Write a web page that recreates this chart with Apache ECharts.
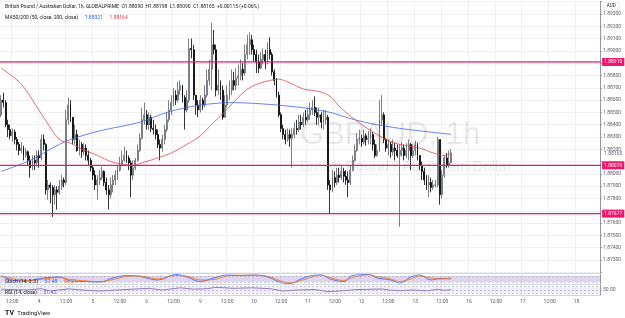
<!DOCTYPE html>
<html>
<head>
<meta charset="utf-8">
<script src="https://cdn.jsdelivr.net/npm/echarts/dist/echarts.min.js"></script>
<style>
html, body { margin: 0; padding: 0; background: #fff; }
#chart { width: 625px; height: 318px; }
</style>
</head>
<body>
<div id="chart"></div>
<script>
// GBPAUD 1h, 3 Dec 07:00 .. 13 Dec 16:00 (trading hours only)
var tradingDays = [3, 4, 5, 6, 9, 10, 11, 12, 13, 16, 17, 18];

var firstOpen = 1.8848;
var closes = [
	1.8860, 1.8858, 1.8840, 1.8836, 1.8831, 1.8834, 1.8828, 1.8824, 1.8819, 1.8821,
	1.8815, 1.8818, 1.8811, 1.8805, 1.8811, 1.8809, 1.8815, 1.8813, 1.8828, 1.8824,
	1.8787, 1.8791, 1.8789, 1.8783, 1.8787, 1.8785, 1.8790, 1.8795, 1.8793, 1.8844,
	1.8856, 1.8846, 1.8828, 1.8832, 1.8819, 1.8824, 1.8818, 1.8821, 1.8815, 1.8811,
	1.8805, 1.8799, 1.8791, 1.8795, 1.8797, 1.8802, 1.8793, 1.8787, 1.8783, 1.8791,
	1.8795, 1.8799, 1.8803, 1.8807, 1.8811, 1.8815, 1.8813, 1.8809, 1.8799, 1.8805,
	1.8811, 1.8819, 1.8829, 1.8844, 1.8848, 1.8840, 1.8846, 1.8837, 1.8836, 1.8832,
	1.8824, 1.8821, 1.8828, 1.8836, 1.8844, 1.8852, 1.8858, 1.8864, 1.8860, 1.8868,
	1.8872, 1.8862, 1.8852, 1.8860, 1.8902, 1.8901, 1.8864, 1.8856, 1.8852, 1.8860,
	1.8856, 1.8864, 1.8876, 1.8885, 1.8905, 1.8901, 1.8868, 1.8872, 1.8868, 1.8846,
	1.8856, 1.8864, 1.8868, 1.8876, 1.8872, 1.8878, 1.8880, 1.8885, 1.8882, 1.8897,
	1.8905, 1.8909, 1.8901, 1.8897, 1.8891, 1.8886, 1.8893, 1.8897, 1.8891, 1.8901,
	1.8897, 1.8883, 1.8876, 1.8864, 1.8848, 1.8837, 1.8832, 1.8828, 1.8832, 1.8829,
	1.8832, 1.8837, 1.8836, 1.8842, 1.8840, 1.8846, 1.8844, 1.8848, 1.8852, 1.8854,
	1.8850, 1.8846, 1.8848, 1.8842, 1.8844, 1.8846, 1.8791, 1.8787, 1.8797, 1.8793,
	1.8799, 1.8797, 1.8802, 1.8798, 1.8795, 1.8793, 1.8803, 1.8811, 1.8819, 1.8828,
	1.8829, 1.8826, 1.8831, 1.8828, 1.8829, 1.8832, 1.8824, 1.8815, 1.8819, 1.8844,
	1.8848, 1.8828, 1.8821, 1.8824, 1.8818, 1.8821, 1.8819, 1.8815, 1.8819, 1.8821,
	1.8815, 1.8819, 1.8824, 1.8815, 1.8819, 1.8824, 1.8815, 1.8807, 1.8802, 1.8795,
	1.8791, 1.8793, 1.8789, 1.8791, 1.8791, 1.8828, 1.8783, 1.8799, 1.8813, 1.8807,
	1.8809, 1.8817
];
var highs = [
	1.8864, 1.8866, 1.8860, 1.8844, 1.8840, 1.8837, 1.8836, 1.8830, 1.8826, 1.8826,
	1.8823, 1.8821, 1.8819, 1.8815, 1.8815, 1.8815, 1.8819, 1.8819, 1.8832, 1.8832,
	1.8825, 1.8795, 1.8793, 1.8791, 1.8791, 1.8790, 1.8795, 1.8799, 1.8797, 1.8852,
	1.8862, 1.8860, 1.8846, 1.8840, 1.8836, 1.8828, 1.8826, 1.8825, 1.8824, 1.8819,
	1.8813, 1.8807, 1.8803, 1.8799, 1.8803, 1.8806, 1.8803, 1.8797, 1.8791, 1.8797,
	1.8799, 1.8803, 1.8807, 1.8814, 1.8819, 1.8822, 1.8819, 1.8815, 1.8811, 1.8811,
	1.8813, 1.8824, 1.8833, 1.8854, 1.8858, 1.8852, 1.8850, 1.8848, 1.8844, 1.8840,
	1.8836, 1.8828, 1.8832, 1.8840, 1.8850, 1.8860, 1.8864, 1.8870, 1.8868, 1.8875,
	1.8876, 1.8872, 1.8864, 1.8868, 1.8910, 1.8910, 1.8905, 1.8864, 1.8860, 1.8864,
	1.8862, 1.8872, 1.8885, 1.8893, 1.8923, 1.8917, 1.8905, 1.8885, 1.8876, 1.8872,
	1.8864, 1.8872, 1.8876, 1.8885, 1.8883, 1.8886, 1.8889, 1.8893, 1.8890, 1.8905,
	1.8913, 1.8915, 1.8913, 1.8905, 1.8901, 1.8897, 1.8899, 1.8902, 1.8901, 1.8907,
	1.8911, 1.8899, 1.8885, 1.8878, 1.8867, 1.8850, 1.8840, 1.8836, 1.8837, 1.8836,
	1.8837, 1.8842, 1.8844, 1.8848, 1.8848, 1.8850, 1.8852, 1.8854, 1.8858, 1.8860,
	1.8863, 1.8854, 1.8854, 1.8850, 1.8852, 1.8852, 1.8848, 1.8795, 1.8803, 1.8802,
	1.8805, 1.8805, 1.8807, 1.8805, 1.8803, 1.8802, 1.8807, 1.8815, 1.8824, 1.8833,
	1.8836, 1.8832, 1.8836, 1.8833, 1.8835, 1.8837, 1.8834, 1.8828, 1.8824, 1.8860,
	1.8864, 1.8850, 1.8829, 1.8828, 1.8826, 1.8828, 1.8825, 1.8824, 1.8824, 1.8826,
	1.8824, 1.8825, 1.8828, 1.8825, 1.8824, 1.8827, 1.8825, 1.8815, 1.8810, 1.8805,
	1.8799, 1.8799, 1.8797, 1.8795, 1.8795, 1.8830, 1.8828, 1.8803, 1.8815, 1.8817,
	1.8819, 1.8820
];
var lows = [
	1.8846, 1.8854, 1.8838, 1.8830, 1.8828, 1.8826, 1.8824, 1.8819, 1.8815, 1.8817,
	1.8811, 1.8813, 1.8807, 1.8797, 1.8803, 1.8803, 1.8806, 1.8805, 1.8811, 1.8819,
	1.8783, 1.8779, 1.8776, 1.8765, 1.8775, 1.8771, 1.8783, 1.8787, 1.8789, 1.8791,
	1.8840, 1.8842, 1.8824, 1.8824, 1.8818, 1.8815, 1.8813, 1.8815, 1.8811, 1.8807,
	1.8802, 1.8795, 1.8787, 1.8779, 1.8791, 1.8795, 1.8790, 1.8783, 1.8771, 1.8780,
	1.8785, 1.8791, 1.8795, 1.8802, 1.8806, 1.8810, 1.8809, 1.8803, 1.8781, 1.8795,
	1.8803, 1.8810, 1.8818, 1.8828, 1.8840, 1.8836, 1.8836, 1.8834, 1.8832, 1.8828,
	1.8821, 1.8811, 1.8818, 1.8824, 1.8834, 1.8842, 1.8848, 1.8855, 1.8856, 1.8858,
	1.8864, 1.8858, 1.8836, 1.8850, 1.8858, 1.8894, 1.8860, 1.8848, 1.8846, 1.8850,
	1.8852, 1.8854, 1.8862, 1.8872, 1.8868, 1.8897, 1.8863, 1.8864, 1.8860, 1.8844,
	1.8846, 1.8854, 1.8860, 1.8864, 1.8868, 1.8868, 1.8872, 1.8876, 1.8876, 1.8880,
	1.8893, 1.8897, 1.8897, 1.8891, 1.8882, 1.8882, 1.8885, 1.8889, 1.8885, 1.8889,
	1.8893, 1.8880, 1.8872, 1.8862, 1.8846, 1.8834, 1.8828, 1.8824, 1.8826, 1.8822,
	1.8805, 1.8829, 1.8832, 1.8834, 1.8836, 1.8838, 1.8840, 1.8842, 1.8844, 1.8848,
	1.8847, 1.8840, 1.8840, 1.8837, 1.8836, 1.8840, 1.8787, 1.8768, 1.8785, 1.8789,
	1.8791, 1.8793, 1.8795, 1.8793, 1.8791, 1.8781, 1.8791, 1.8802, 1.8810, 1.8818,
	1.8824, 1.8822, 1.8824, 1.8823, 1.8824, 1.8824, 1.8819, 1.8813, 1.8814, 1.8818,
	1.8840, 1.8825, 1.8818, 1.8815, 1.8813, 1.8815, 1.8811, 1.8813, 1.8757, 1.8814,
	1.8811, 1.8813, 1.8811, 1.8803, 1.8813, 1.8815, 1.8811, 1.8803, 1.8795, 1.8791,
	1.8787, 1.8781, 1.8785, 1.8787, 1.8789, 1.8789, 1.8775, 1.8780, 1.8797, 1.8805,
	1.8805, 1.8809
];

// moving averages: [bar, price]
var ma50 = [
	[0, 1.8886], [9, 1.8873], [19, 1.8846], [26, 1.8828], [31, 1.8825], [35, 1.8821],
	[43, 1.8815], [49, 1.8810], [54, 1.8808], [59, 1.8807], [63, 1.8809], [70, 1.8813],
	[76, 1.8817], [83, 1.8824], [89, 1.8831], [95, 1.8842], [98, 1.8847], [108, 1.8866],
	[113, 1.8872], [120, 1.8876], [124, 1.8877], [129, 1.8874], [135, 1.8869], [142, 1.8867],
	[147, 1.8863], [151, 1.8855], [156, 1.8847], [162, 1.8839], [168, 1.8832], [173, 1.8827],
	[178, 1.8824], [187, 1.8821], [193, 1.8817], [198, 1.8815], [201, 1.88164]
];
var ma200 = [
	[0, 1.8802], [13, 1.8811], [20, 1.8818], [26, 1.8824], [31, 1.8828], [44, 1.8835],
	[62, 1.8842], [74, 1.8850], [83, 1.8854], [89, 1.8856], [102, 1.8858], [116, 1.8857],
	[134, 1.8854], [147, 1.8850], [156, 1.8845], [165, 1.8841], [178, 1.8837], [187, 1.8835],
	[201, 1.88321]
];

// stochastic %K / %D and RSI: [bar, value]
var stochK = [
	[0, 85], [5, 40], [11, 30], [19, 60], [26, 70], [31, 30], [38, 25], [44, 20], [50, 60],
	[56, 85], [62, 75], [70, 40], [78, 95], [83, 70], [89, 25], [95, 60], [101, 90], [107, 85],
	[113, 90], [119, 70], [125, 15], [129, 5], [134, 50], [139, 85], [143, 90], [147, 50],
	[153, 25], [157, 85], [164, 95], [168, 60], [174, 40], [178, 10], [183, 70], [187, 90],
	[192, 40], [196, 55], [201, 51.48]
];
var stochD = [
	[0, 80], [5, 55], [11, 35], [19, 50], [26, 65], [31, 45], [38, 30], [44, 22], [50, 45],
	[56, 75], [62, 80], [70, 50], [78, 85], [83, 80], [89, 40], [95, 45], [101, 80], [107, 88],
	[113, 88], [119, 78], [125, 30], [129, 12], [134, 35], [139, 70], [143, 88], [147, 65],
	[153, 35], [157, 65], [164, 90], [168, 75], [174, 50], [178, 25], [183, 50], [187, 80],
	[192, 60], [196, 50], [201, 60.21]
];
var rsi = [
	[0, 55], [6, 52], [12, 50], [18, 58], [22, 44], [30, 57], [36, 50], [44, 44], [52, 50],
	[60, 56], [66, 60], [72, 50], [80, 63], [86, 55], [92, 58], [96, 66], [104, 60], [112, 63],
	[120, 58], [126, 44], [132, 50], [140, 53], [146, 40], [152, 45], [158, 52], [164, 54],
	[170, 56], [174, 49], [178, 46], [184, 50], [190, 45], [195, 54], [198, 48], [201, 51.43]
];

var levels = [1.88910, 1.88070, 1.87677];
var lastPrice = 1.88165;

var categories = [];
tradingDays.forEach(function (d) {
	var from = d === 3 ? 7 : 0;
	var to = d === 18 ? 10 : 23;
	for (var h = from; h <= to; h++) {
		categories.push(d + ' ' + (h < 10 ? '0' + h : h) + ':00');
	}
});
var lastIndex = categories.length - 1;

var candles = closes.map(function (c, i) {
	var o = i === 0 ? firstOpen : closes[i - 1];
	return [o, c, lows[i], highs[i]];
});

function isMark(index, value) {
	return / (00|12):00$/.test(value);
}

var gridColor = '#eef0f3';
var textColor = '#5d606b';
var levelColor = '#f0146a';
var font = 'Roboto, "DejaVu Sans", sans-serif';

function xAxisFor(gridIndex, showLabels) {
	return {
		type: 'category',
		gridIndex: gridIndex,
		data: categories,
		boundaryGap: true,
		axisLine: { show: showLabels, lineStyle: { color: '#d1d4dc' } },
		axisTick: { show: false },
		axisLabel: {
			show: showLabels,
			interval: isMark,
			fontSize: 5,
			color: textColor,
			fontFamily: font,
			margin: 4,
			formatter: function (v) {
				return / 00:00$/.test(v) ? v.split(' ')[0] : '12:00';
			}
		},
		splitLine: { show: true, interval: isMark, lineStyle: { color: gridColor, width: 1 } }
	};
}

// horizontal price level: a flat two-point line with its tag on the price scale
function levelSeries(v, lineColor, tagColor, tagBg) {
	return {
		type: 'line',
		xAxisIndex: 0,
		yAxisIndex: 0,
		data: [[-1, v], [lastIndex + 1, v]],
		showSymbol: false,
		silent: true,
		z: 4,
		clip: false,
		lineStyle: { color: lineColor, width: 1.3 },
		endLabel: {
			show: true,
			distance: 1,
			fontSize: 5,
			fontFamily: font,
			color: tagColor,
			backgroundColor: tagBg,
			padding: [1.5, 2],
			formatter: function () { return v.toFixed(5); }
		}
	};
}

var chart = echarts.init(document.getElementById('chart'));

var option = {
	animation: false,
	backgroundColor: '#ffffff',
	grid: [
		{ left: 0, right: 25, top: 1.7, height: 270.6 },
		{ left: 0, right: 25, top: 274, height: 10 },
		{ left: 0, right: 25, top: 285, height: 10 }
	],
	xAxis: [xAxisFor(0, false), xAxisFor(1, false), xAxisFor(2, true)],
	yAxis: [
		{
			type: 'value',
			gridIndex: 0,
			position: 'right',
			min: 1.872,
			max: 1.894,
			interval: 0.001,
			axisLine: { show: true, lineStyle: { color: '#9598a1' } },
			axisTick: { show: true, length: 2, lineStyle: { color: '#9598a1' } },
			axisLabel: {
				fontSize: 5,
				color: textColor,
				fontFamily: font,
				margin: 3,
				formatter: function (v) {
					var k = Math.round(v * 1000);
					if (k === 1894 || k === 1889 || k === 1881 || k === 1877 || k === 1872) return '';
					return v.toFixed(5);
				}
			},
			splitLine: { show: true, lineStyle: { color: gridColor, width: 1 } }
		},
		{
			type: 'value',
			gridIndex: 1,
			position: 'right',
			min: 0,
			max: 100,
			axisLine: { show: true, lineStyle: { color: '#9598a1' } },
			axisTick: { show: false },
			axisLabel: { show: false },
			splitLine: { show: false }
		},
		{
			type: 'value',
			gridIndex: 2,
			position: 'right',
			min: 20,
			max: 80,
			interval: 10,
			axisLine: { show: true, lineStyle: { color: '#9598a1' } },
			axisTick: { show: false },
			axisLabel: {
				fontSize: 5,
				color: textColor,
				fontFamily: font,
				margin: 3,
				formatter: function (v) { return v === 50 ? '50.00' : ''; }
			},
			splitLine: { show: false }
		}
	],
	graphic: [
		{
			type: 'text', left: 300, top: 120, z: 1,
			style: {
				text: 'GBPAUD, 1h', x: 0, y: 0, align: 'center', verticalAlign: 'middle',
				font: '31px "Liberation Sans", Arial, sans-serif', fill: 'rgba(0,0,0,0.09)'
			}
		},
		{
			type: 'text', left: 300, top: 159, z: 1,
			style: {
				text: 'British Pound / Australian Dollar', x: 0, y: 0, align: 'center', verticalAlign: 'middle',
				font: '15px "Liberation Sans", Arial, sans-serif', fill: 'rgba(0,0,0,0.09)'
			}
		},
		{
			type: 'text', left: 5, top: 4, z: 10,
			style: {
				text: 'British Pound / Australian Dollar, 1h, GLOBALPRIME  O1.88090  H1.88198  L1.88090  C1.88165  +0.00115 (+0.06%)',
				font: '5px ' + font, fill: '#131722'
			}
		},
		{
			type: 'text', left: 5, top: 12, z: 10,
			style: {
				rich: {
					a: { fontSize: 5, fontFamily: font, fill: '#131722' },
					b: { fontSize: 5, fontFamily: font, fill: '#2962ff' },
					c: { fontSize: 5, fontFamily: font, fill: '#f23645' }
				},
				text: '{a|MA50/200 (50, close, 200, close)}  {b|1.88321}  {c|1.88164}'
			}
		},
		{
			type: 'text', left: 5, top: 275.5, z: 10,
			style: {
				rich: {
					a: { fontSize: 5, fontFamily: font, fill: '#131722' },
					b: { fontSize: 5, fontFamily: font, fill: '#2962ff' },
					c: { fontSize: 5, fontFamily: font, fill: '#ff6d00' }
				},
				text: '{a|Stoch (14, 3, 3)}  {b|51.48}  {c|60.21}'
			}
		},
		{
			type: 'text', left: 5, top: 286.5, z: 10,
			style: {
				rich: {
					a: { fontSize: 5, fontFamily: font, fill: '#131722' },
					b: { fontSize: 5, fontFamily: font, fill: '#7e57c2' }
				},
				text: '{a|RSI (14, close)}  {b|51.43}'
			}
		},
		{
			type: 'group', left: 603, top: 2, z: 10,
			children: [
				{ type: 'rect', shape: { x: 0, y: 0, width: 16, height: 8, r: 1 }, style: { fill: '#fff', stroke: '#d1d4dc', lineWidth: 0.5 } },
				{ type: 'text', style: { text: 'AUD', x: 8, y: 4, align: 'center', verticalAlign: 'middle', font: '4.5px ' + font, fill: '#131722' } }
			]
		},
		{ type: 'line', z: 10, shape: { x1: 0, y1: 273.5, x2: 600, y2: 273.5 }, style: { stroke: '#d1d4dc', lineWidth: 1 } },
		{ type: 'line', z: 10, shape: { x1: 0, y1: 284.5, x2: 600, y2: 284.5 }, style: { stroke: '#d1d4dc', lineWidth: 1 } },
		{
			type: 'text', left: 5, top: 307, z: 10,
			style: {
				rich: {
					l: { fontSize: 7, fontWeight: 'bold', fontFamily: font, fill: '#131722' },
					t: { fontSize: 6, fontFamily: font, fill: '#131722' }
				},
				text: '{l|TV} {t|TradingView}'
			}
		}
	],
	series: [
		{
			name: 'GBPAUD',
			type: 'candlestick',
			xAxisIndex: 0,
			yAxisIndex: 0,
			data: candles,
			barWidth: 1.4,
			itemStyle: {
				color: '#ffffff',
				color0: '#000000',
				borderColor: '#5d606b',
				borderColor0: '#000000',
				borderWidth: 0.8
			}
		},
		{
			name: 'MA200',
			type: 'line',
			xAxisIndex: 0,
			yAxisIndex: 0,
			data: ma200,
			showSymbol: false,
			smooth: 0.3,
			lineStyle: { color: '#3f65e8', width: 0.8 }
		},
		{
			name: 'MA50',
			type: 'line',
			xAxisIndex: 0,
			yAxisIndex: 0,
			data: ma50,
			showSymbol: false,
			smooth: 0.3,
			lineStyle: { color: '#e0464b', width: 0.8 }
		},
		levelSeries(levels[0], levelColor, '#ffffff', levelColor),
		levelSeries(levels[1], levelColor, '#ffffff', levelColor),
		levelSeries(levels[2], levelColor, '#ffffff', levelColor),
		levelSeries(lastPrice, 'rgba(0,0,0,0)', textColor, 'transparent'),
		{
			name: '%K',
			type: 'line',
			xAxisIndex: 1,
			yAxisIndex: 1,
			data: stochK,
			showSymbol: false,
			smooth: 0.4,
			lineStyle: { color: '#2962ff', width: 0.8 },
			markArea: {
				silent: true,
				itemStyle: { color: 'rgba(126,87,194,0.25)' },
				data: [[{ yAxis: 20 }, { yAxis: 80 }]]
			},
			markLine: {
				symbol: 'none',
				silent: true,
				label: { show: false },
				lineStyle: { color: '#9598a1', width: 0.5, type: [2, 2] },
				data: [{ yAxis: 20 }, { yAxis: 80 }]
			}
		},
		{
			name: '%D',
			type: 'line',
			xAxisIndex: 1,
			yAxisIndex: 1,
			data: stochD,
			showSymbol: false,
			smooth: 0.4,
			lineStyle: { color: '#ff6d00', width: 0.8 }
		},
		{
			name: 'RSI',
			type: 'line',
			xAxisIndex: 2,
			yAxisIndex: 2,
			data: rsi,
			showSymbol: false,
			lineStyle: { color: '#7e57c2', width: 0.8 },
			markArea: {
				silent: true,
				itemStyle: { color: 'rgba(126,87,194,0.1)' },
				data: [[{ yAxis: 30 }, { yAxis: 70 }]]
			},
			markLine: {
				symbol: 'none',
				silent: true,
				label: { show: false },
				lineStyle: { color: '#9598a1', width: 0.5, type: [2, 2] },
				data: [{ yAxis: 30 }, { yAxis: 50 }, { yAxis: 70 }]
			}
		}
	]
};

chart.setOption(option);
</script>
</body>
</html>
